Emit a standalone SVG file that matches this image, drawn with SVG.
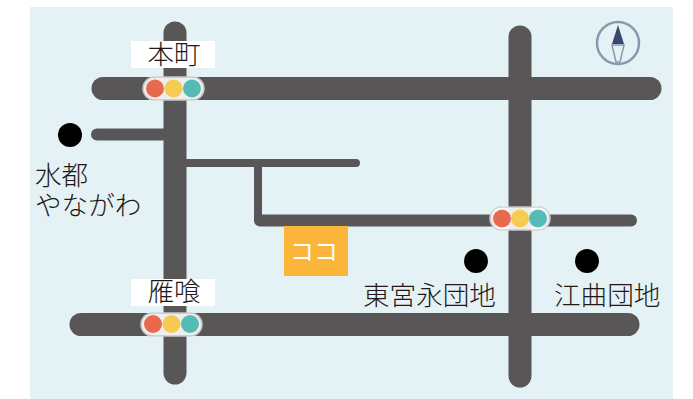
<svg xmlns="http://www.w3.org/2000/svg" width="693" height="399" viewBox="0 0 693 399">
<style>
.road{fill:none;stroke:#595657;stroke-linecap:round;stroke-linejoin:round}
.t{font-family:"Noto Sans CJK JP","Noto Sans",sans-serif;font-size:26.600px;fill:#231815;font-weight:300}
.lab{fill:#fff}
.lamp{fill:#fff;stroke:#d2d2d2;stroke-width:1.500;opacity:.9}
.r{fill:#e9694f}.y{fill:#f6cb52}.g{fill:#55bcb5}
.dot{fill:#000}
</style>
<rect x="30" y="7" width="643" height="392" fill="#e5f2f5"/>
<g id="connectors">
<path class="road" stroke-width="23" d="M175 33V373"/>
<path class="road" stroke-width="23" d="M520 37V376"/>
<path class="road" stroke-width="23" d="M103 88.500H650"/>
<path class="road" stroke-width="23" d="M81 324.500H628"/>
<path class="road" stroke-width="12" d="M97 134.500H175"/>
<path class="road" stroke-width="8" d="M175 163H356"/>
<path class="road" stroke-width="8" d="M258 163V220"/>
<path class="road" stroke-width="12" d="M260 220.500H631"/>
</g>
<g id="compass" fill="none">
<circle cx="618" cy="43" r="21" stroke="#8b97ae" stroke-width="2.500"/>
<path d="M618 25L624 44H612Z" fill="#36486f"/>
<path d="M612 45H624L620 62H616Z" fill="#e5f2f5" stroke="#8b97ae" stroke-width="1.500"/>
</g>
<g id="signal-honmachi">
<rect class="lab" x="131" y="41" width="84" height="27"/>
<text class="t" x="174" y="64" text-anchor="middle">本町</text>
<rect class="lamp" x="143" y="77" width="61" height="23" rx="11.500"/>
<circle class="r" cx="155" cy="88.500" r="9"/><circle class="y" cx="173.500" cy="88.500" r="9"/><circle class="g" cx="192" cy="88.500" r="9"/>
</g>
<g id="signal-gankui">
<rect class="lab" x="131" y="279" width="84" height="27"/>
<text class="t" x="174" y="301" text-anchor="middle">雁喰</text>
<rect class="lamp" x="141" y="313" width="61" height="23" rx="11.500"/>
<circle class="r" cx="153" cy="324" r="9"/><circle class="y" cx="171.500" cy="324" r="9"/><circle class="g" cx="190" cy="324" r="9"/>
</g>
<g id="signal-east">
<rect class="lamp" x="490" y="207" width="60" height="23" rx="11.500"/>
<circle class="r" cx="502" cy="218.500" r="9"/><circle class="y" cx="520" cy="218.500" r="9"/><circle class="g" cx="538" cy="218.500" r="9"/>
</g>
<g id="koko">
<rect x="284" y="226" width="64" height="50" fill="#fab53a"/>
<text x="314" y="260" text-anchor="middle" font-family="'Noto Sans CJK JP',sans-serif" font-size="24" font-weight="400" fill="#fff">ココ</text>
</g>
<g id="yanagawa">
<circle class="dot" cx="70" cy="135" r="12"/>
<text class="t" x="35" y="185">水都</text>
<text class="t" x="35" y="215">やながわ</text>
</g>
<g id="higashimiya">
<circle class="dot" cx="476" cy="261" r="12"/>
<text class="t" x="363" y="305">東宮永団地</text>
</g>
<g id="goukyoku">
<circle class="dot" cx="587" cy="261" r="12"/>
<text class="t" x="554" y="305">江曲団地</text>
</g>
</svg>
